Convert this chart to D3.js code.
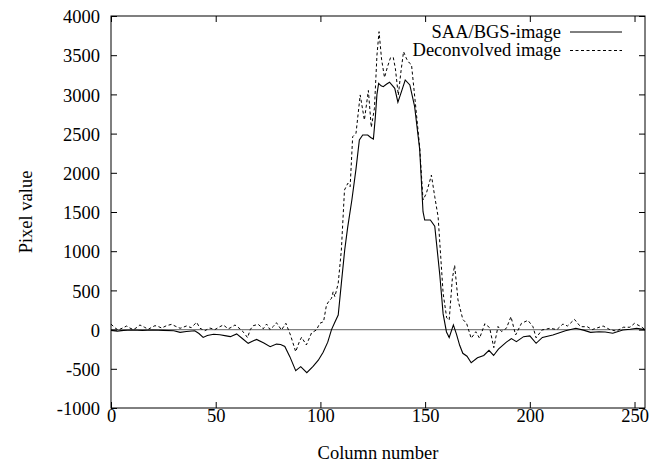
<!DOCTYPE html>
<html>
<head>
<meta charset="utf-8">
<script src="https://cdn.jsdelivr.net/npm/d3@7"></script>
<style>
  html, body { margin: 0; padding: 0; background: #fff; }
</style>
</head>
<body>
<svg id="chart" width="664" height="465"></svg>
<script>
// ---------- data ----------
const xTicks = [0, 50, 100, 150, 200, 250];
const yTicks = [-1000, -500, 0, 500, 1000, 1500, 2000, 2500, 3000, 3500, 4000];
const seriesNames = ["SAA/BGS-image", "Deconvolved image"];

const saaCols = [0,3,6,10,15,20,25,30,33,36,40,42,44,46,49,52,55,57,60,63,65.5,67.5,69.5,73,76,79,81,83,85.4,88.2,90.6,93.5,96.5,99,101.3,103.5,105.3,107,108.5,110,111.6,113,115,117,118.6,120.2,122.6,124,125.3,126.2,127,127.8,129,130,131.5,133,135.5,137,138.7,140.5,142.7,145,147.4,149,149.8,152.5,154.6,157,158.6,160.2,161.5,163.5,165,166.5,168,170,172,175,178,180.5,182.7,185,188.8,191.2,193.6,197,200,203,206,211,217,222,226,229,233,236,239.6,244.4,248,251,255];
const saaVals = [-10,-20,-10,-5,-10,-5,-10,-15,-35,-25,-15,-50,-100,-75,-60,-65,-80,-90,-55,-120,-175,-150,-125,-170,-218,-185,-190,-215,-345,-524,-473,-550,-470,-390,-290,-160,0,100,186,590,1015,1300,1650,2050,2418,2482,2482,2450,2430,2700,3000,3141,3110,3098,3130,3155,3078,2900,3035,3184,3120,2843,2300,1504,1398,1398,1320,700,200,-30,-100,60,-60,-200,-302,-340,-422,-360,-330,-265,-330,-250,-160,-115,-154,-90,-80,-175,-100,-69,-14,17,-10,-35,-27,-30,-47,-5,5,17,0];

const decCols = [0,2,3.5,5.5,7.5,9,10.7,12.5,13.8,16,17.8,19.5,21,22.5,24.2,26.5,28.9,31,33,34.5,36,38.3,40.9,42.5,44.8,47.2,49.6,51.5,53.6,56,57.5,59.2,61.6,63.5,65.2,66.5,67.9,70.3,72.7,74.3,75.9,77.5,79,81.4,83.5,85.7,88.2,90,91,93.3,95.8,98.1,99.7,101.5,102.9,104,105.3,106.1,106.9,108.5,110,111.5,113.1,114.2,115.4,117,119,121,122.9,124.3,125.8,127,128,129.2,130.6,132,133.5,134.8,135.8,137.2,138.5,139.7,141.2,142.5,143.5,145.3,147.4,149,150.6,153,154.6,156.2,158.6,160.3,161.5,163,164.1,165.7,168,169.8,172,174.2,176,178.5,180.8,182.8,184.8,186.5,188.8,191,193.2,196,199.1,201.5,203,205.8,209.7,212.9,215.8,218,221.3,224.2,227.4,229.8,232,235,238.2,241.4,244.6,247.8,250,253.2,255];
const decVals = [70,20,-5,20,46,20,0,30,59,30,4,30,50,40,20,50,67,40,17,30,46,25,93,17,-14,20,0,30,59,10,30,59,10,-40,-103,0,50,67,10,71,0,40,88,-5,80,-69,-282,-150,-98,-196,-40,-5,80,101,314,360,399,484,420,590,1015,1781,1866,1823,2460,2504,2993,2673,3050,2580,2823,3500,3800,3450,3215,3350,3470,3470,3330,2990,3300,3545,3450,3400,3380,2900,2330,1653,1738,1970,1695,1440,463,150,122,650,820,378,130,80,-111,-27,-111,75,25,-230,40,-25,17,165,-69,80,118,37,-105,-5,17,0,71,46,131,37,37,0,20,46,0,-20,30,30,80,37,0];

(function () {
// ---------- layout ----------
const svg = d3.select("#chart");
const mL = 111, mR = 645, mT = 16, mB = 408;
const x = d3.scaleLinear().domain([0, 255]).range([mL, mR]);
const y = d3.scaleLinear().domain([-1000, 4000]).range([mB, mT]);
const FONT = '"Liberation Serif"';
const fontSize = 18.5;
const fmt = d => String(d);
const styleText = sel => sel.style("font-family", FONT).style("font-size", fontSize + "px").attr("fill", "#000");

// zero axis
svg.append("line")
  .attr("x1", x(0)).attr("x2", x(255))
  .attr("y1", y(0)).attr("y2", y(0))
  .attr("stroke", "#808080").attr("stroke-width", 1.3);

// axes with inward ticks
const tickLen = 6;
const gB = svg.append("g").attr("transform", `translate(0,${mB})`)
  .call(d3.axisBottom(x).tickValues(xTicks).tickSize(-tickLen).tickFormat(fmt));
const gT = svg.append("g").attr("transform", `translate(0,${mT})`)
  .call(d3.axisTop(x).tickValues(xTicks).tickSize(-tickLen).tickFormat(""));
const gL = svg.append("g").attr("transform", `translate(${mL},0)`)
  .call(d3.axisLeft(y).tickValues(yTicks).tickSize(-tickLen).tickFormat(fmt));
const gR = svg.append("g").attr("transform", `translate(${mR},0)`)
  .call(d3.axisRight(y).tickValues(yTicks).tickSize(-tickLen).tickFormat(""));
[gB, gT, gL, gR].forEach(g => {
  g.attr("font-family", null).attr("font-size", null);
  g.select(".domain").remove();
  g.selectAll("line").attr("stroke", "#000").attr("stroke-width", 1);
  g.selectAll("text").call(styleText);
});
gB.selectAll(".tick text").attr("y", 14).attr("dy", "0");
gL.selectAll(".tick text").attr("x", -11).attr("dy", "0.36em");
// frame
svg.append("rect").attr("x", mL).attr("y", mT).attr("width", mR - mL).attr("height", mB - mT)
  .attr("fill", "none").attr("stroke", "#000").attr("stroke-width", 1);

// lines
const lineGen = d3.line().x(d => x(d[0])).y(d => y(d[1]));
const saaData = saaCols.map((c, i) => [c, saaVals[i]]);
const decData = decCols.map((c, i) => [c, decVals[i]]);
svg.append("path").datum(decData).attr("d", lineGen)
  .attr("fill", "none").attr("stroke", "#000").attr("stroke-width", 1).attr("stroke-dasharray", "3,2.5");
svg.append("path").datum(saaData).attr("d", lineGen)
  .attr("fill", "none").attr("stroke", "#000").attr("stroke-width", 1.1);

// legend
const legend = svg.append("g");
seriesNames.forEach((name, i) => {
  const yy = 32 + i * 18.5;
  legend.append("text").attr("x", 561).attr("y", yy).attr("dy", "0.3em")
    .attr("text-anchor", "end").call(styleText).text(name);
  legend.append("line").attr("x1", 570).attr("x2", 622).attr("y1", yy).attr("y2", yy)
    .attr("stroke", "#000").attr("stroke-width", 1)
    .attr("stroke-dasharray", i === 1 ? "3,2.5" : null);
});

// axis titles
svg.append("text").attr("x", (mL + mR) / 2).attr("y", 459)
  .attr("text-anchor", "middle").call(styleText).text("Column number");
svg.append("text").attr("transform", `translate(32,212) rotate(-90)`)
  .attr("text-anchor", "middle").call(styleText).text("Pixel value");
})();
</script>
</body>
</html>
